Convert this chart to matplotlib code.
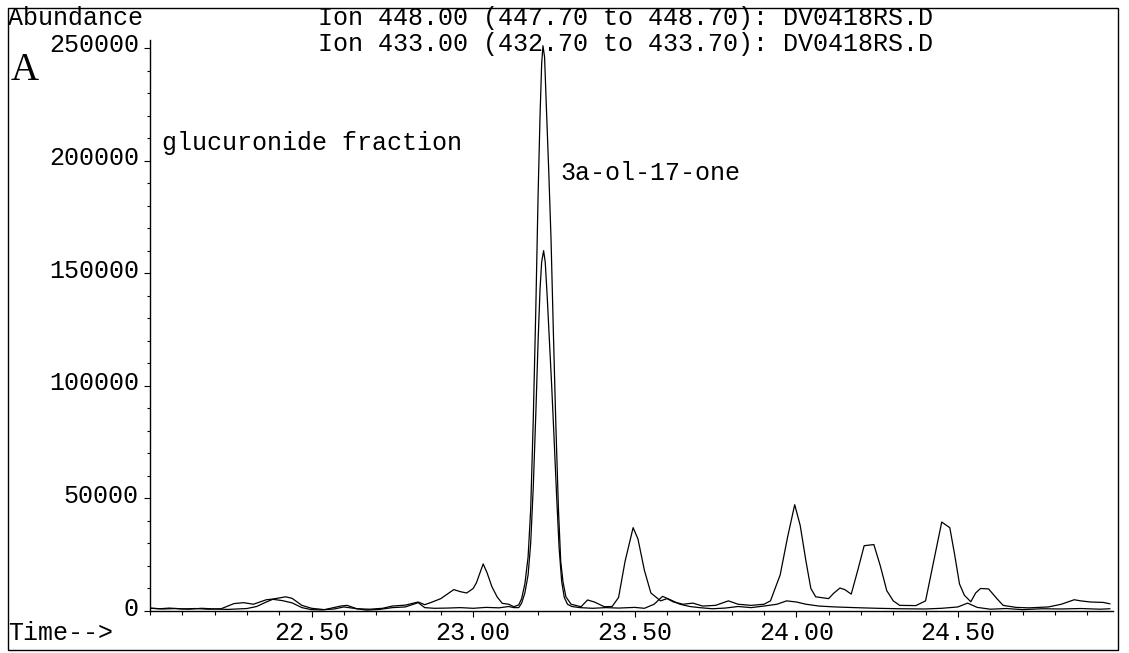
import matplotlib
matplotlib.use("Agg")
import matplotlib.pyplot as plt
from matplotlib.patches import Rectangle
from matplotlib.ticker import MultipleLocator, FixedLocator
import matplotlib.transforms as mtransforms

# ---------------- data ----------------
time_a = [22.00, 22.03, 22.06, 22.10, 22.14, 22.18, 22.22, 22.26, 22.29, 22.32,
          22.36, 22.38, 22.42, 22.44, 22.47, 22.50, 22.54, 22.59, 22.61, 22.64,
          22.68, 22.72, 22.75, 22.79, 22.83, 22.85, 22.87, 22.90, 22.94, 22.96,
          22.98, 23.00, 23.01, 23.031, 23.043, 23.058, 23.074, 23.090, 23.11, 23.126,
          23.141, 23.150, 23.160, 23.170, 23.178, 23.186, 23.194, 23.201, 23.207, 23.212,
          23.216, 23.221, 23.227, 23.234, 23.241, 23.248, 23.256, 23.264, 23.271, 23.278,
          23.287, 23.303, 23.334, 23.354, 23.375, 23.406, 23.43, 23.45, 23.47, 23.495,
          23.51, 23.53, 23.55, 23.58, 23.60, 23.62, 23.65, 23.68, 23.71, 23.75,
          23.79, 23.82, 23.86, 23.90, 23.92, 23.95, 23.973, 23.995, 24.012, 24.030,
          24.045, 24.06, 24.10, 24.115, 24.135, 24.15, 24.17, 24.19, 24.21, 24.24,
          24.26, 24.28, 24.30, 24.32, 24.37, 24.40, 24.425, 24.450, 24.475, 24.49,
          24.505, 24.52, 24.54, 24.555, 24.57, 24.595, 24.62, 24.64, 24.68, 24.72,
          24.78, 24.82, 24.86, 24.88, 24.91, 24.95, 24.97]
abund_a = [1200, 1000, 1300, 900, 1100, 800, 1000, 3300, 3700, 3000,
           5000, 5300, 6300, 5600, 2500, 1200, 600, 2200, 2500, 1000,
           800, 1200, 2200, 2600, 4000, 2800, 3800, 5500, 9500, 8600,
           8000, 10000, 12500, 20900, 17000, 10800, 6300, 3400, 3000, 1900,
           2700, 5500, 12000, 24000, 45000, 85000, 135000, 185000, 220000, 243000,
           251000, 246000, 222000, 195000, 165000, 125000, 82000, 45000, 22000, 13000,
           6300, 3000, 1900, 4900, 4000, 1900, 2000, 6000, 22000, 37000,
           32000, 18000, 8000, 4500, 5500, 4000, 3000, 3500, 2200, 2500,
           4500, 3000, 2500, 3000, 4500, 16000, 32800, 47200, 38000, 22000,
           10000, 6300, 5500, 7800, 10200, 9500, 7500, 18000, 29000, 29500,
           20000, 9000, 4500, 2500, 2400, 4500, 22000, 39500, 37000, 25000,
           12000, 7000, 4100, 8000, 10000, 9800, 5600, 2500, 1600, 1400,
           1800, 3000, 5000, 4500, 4000, 3800, 3200]

time_b = [22.00, 22.04, 22.08, 22.12, 22.16, 22.20, 22.24, 22.27, 22.30, 22.33,
          22.36, 22.38, 22.41, 22.44, 22.47, 22.50, 22.53, 22.57, 22.60, 22.63,
          22.67, 22.71, 22.75, 22.79, 22.83, 22.85, 22.88, 22.92, 22.96, 23.00,
          23.04, 23.08, 23.11, 23.126, 23.141, 23.150, 23.160, 23.170, 23.178, 23.186,
          23.194, 23.201, 23.207, 23.212, 23.218, 23.223, 23.229, 23.236, 23.243, 23.250,
          23.258, 23.266, 23.274, 23.282, 23.292, 23.305, 23.33, 23.37, 23.41, 23.45,
          23.50, 23.53, 23.56, 23.586, 23.61, 23.64, 23.67, 23.70, 23.74, 23.78,
          23.82, 23.86, 23.90, 23.94, 23.97, 24.00, 24.03, 24.07, 24.12, 24.18,
          24.25, 24.32, 24.40, 24.45, 24.50, 24.53, 24.56, 24.60, 24.65, 24.70,
          24.76, 24.82, 24.88, 24.94, 24.97]
abund_b = [1300, 900, 1100, 800, 1200, 900, 700, 900, 1100, 2000,
           4000, 5200, 4600, 3600, 1500, 600, 500, 900, 1800, 1200,
           400, 700, 1500, 1800, 3700, 1500, 1200, 1300, 1500, 1200,
           1600, 1400, 2000, 1500, 1500, 3500, 8000, 16000, 30000, 55000,
           88000, 120000, 143000, 155000, 160000, 155000, 140000, 120000, 100000, 78000,
           52000, 28000, 13000, 6000, 3000, 2000, 1500, 1200, 1500, 1300,
           1600, 1200, 3000, 6500, 5000, 3000, 2000, 1500, 1000, 1300,
           2000, 1500, 2200, 3000, 4500, 4000, 3000, 2200, 1800, 1500,
           1200, 1000, 900, 1200, 1800, 3500, 1600, 800, 1100, 600,
           1000, 900, 1100, 800, 1000]

x_major_ticks = [22.50, 23.00, 23.50, 24.00, 24.50]
y_major_ticks = [0, 50000, 100000, 150000, 200000, 250000]

header_lines = ["Ion 448.00 (447.70 to 448.70): DV0418RS.D",
                "Ion 433.00 (432.70 to 433.70): DV0418RS.D"]
y_title = "Abundance"
x_title = "Time-->"
panel_label = "A"
fraction_label = "glucuronide fraction"
peak_label = "3a-ol-17-one"

# ---------------- figure ----------------
W, H = 1129, 653
fig = plt.figure(figsize=(W / 100, H / 100), dpi=100)
fig.patch.set_facecolor("white")
mono = "Liberation Mono"
fs = 18

def fx(px):
    return px / W

def fy(py):
    return 1 - py / H

left, right, top, bottom = 150, 1113, 40, 611
ax = fig.add_axes([fx(left), fy(bottom), fx(right) - fx(left), fy(top) - fy(bottom)])

ax.plot(time_a, abund_a, color="black", lw=0.9)
ax.plot(time_b, abund_b, color="black", lw=0.9)

ax.set_xlim(22.0, 24.98)
ax.set_ylim(0, 253550)

for s in ["top", "right"]:
    ax.spines[s].set_visible(False)
ax.spines["left"].set_linewidth(1.0)
ax.spines["bottom"].set_linewidth(1.0)

ax.xaxis.set_major_locator(FixedLocator(x_major_ticks))
ax.xaxis.set_minor_locator(MultipleLocator(0.1))
ax.set_xticklabels([f"{v:.2f}" for v in x_major_ticks], fontfamily=mono, fontsize=fs)
ax.yaxis.set_major_locator(FixedLocator(y_major_ticks))
ax.yaxis.set_minor_locator(MultipleLocator(10000))
ax.set_yticklabels([f"{v:d}" for v in y_major_ticks], fontfamily=mono, fontsize=fs)

ax.tick_params(axis="x", which="major", direction="out", length=4, width=0.8, pad=3)
ax.tick_params(axis="x", which="minor", direction="out", length=3, width=0.8)
ax.tick_params(axis="y", which="major", direction="out", length=4, width=0.8, pad=4)
ax.tick_params(axis="y", which="minor", direction="out", length=2.5, width=0.8)

offset = mtransforms.ScaledTranslation(0, 5 / 100, fig.dpi_scale_trans)
for lab in ax.get_yticklabels():
    lab.set_transform(lab.get_transform() + offset)

# outer frame
fig.add_artist(Rectangle((fx(8), fy(650)), fx(1118) - fx(8), fy(8) - fy(650),
                         transform=fig.transFigure, fill=False, lw=1.0, ec="black"))

# texts
fig.text(fx(8), fy(18), y_title, fontfamily=mono, fontsize=fs, va="center", ha="left")
fig.text(fx(318), fy(18), header_lines[0], fontfamily=mono, fontsize=fs, va="center", ha="left")
fig.text(fx(318), fy(44), header_lines[1], fontfamily=mono, fontsize=fs, va="center", ha="left")
fig.text(fx(11), fy(70), panel_label, fontfamily="Liberation Serif", fontsize=28,
         va="center", ha="left")
fig.text(fx(162), fy(143), fraction_label, fontfamily=mono, fontsize=fs, va="center", ha="left")
fig.text(fx(560), fy(173), peak_label, fontfamily=mono, fontsize=fs, va="center", ha="left")
fig.text(fx(8), fy(633), x_title, fontfamily=mono, fontsize=fs, va="center", ha="left")

fig.savefig("out.png", dpi=100, facecolor="white")
